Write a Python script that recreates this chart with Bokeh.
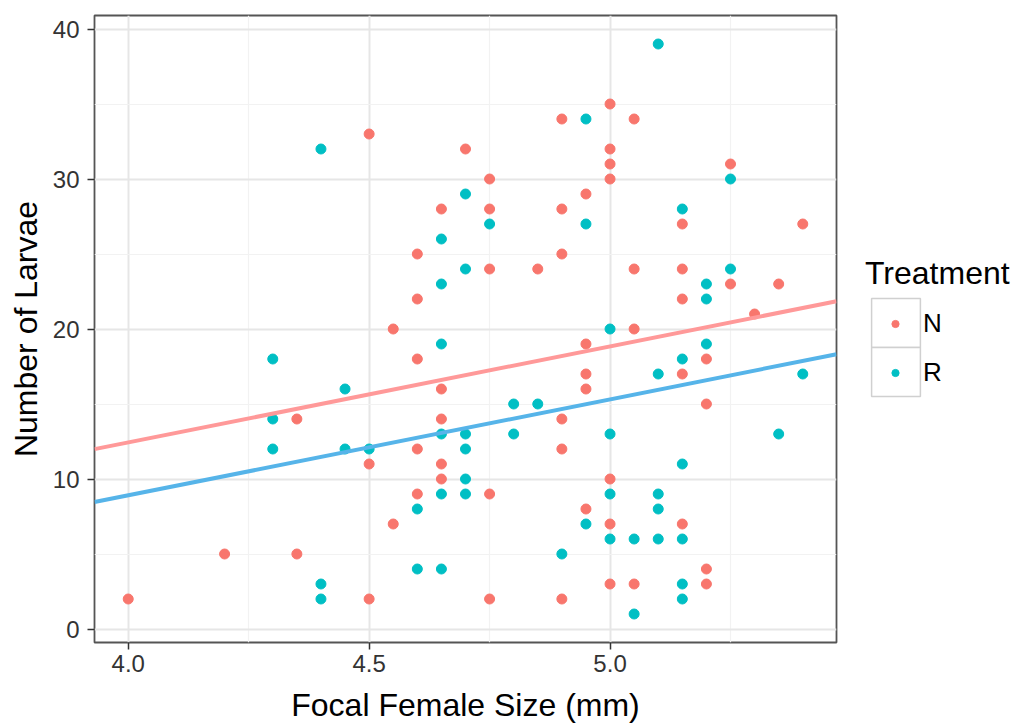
from bokeh.plotting import figure
from bokeh.layouts import row
from bokeh.models import Range1d, FixedTicker, Legend, LegendItem
from bokeh.core.properties import value
from bokeh.embed import file_html
from bokeh.resources import INLINE

# ---- data ----
size_N = [4.0, 4.2, 4.35, 4.35, 4.5, 4.5, 4.5, 4.55, 4.55,
          4.6, 4.6, 4.6, 4.6, 4.6,
          4.65, 4.65, 4.65, 4.65, 4.65,
          4.7,
          4.75, 4.75, 4.75, 4.75, 4.75,
          4.85,
          4.9, 4.9, 4.9, 4.9, 4.9, 4.9,
          4.95, 4.95, 4.95, 4.95, 4.95,
          5.0, 5.0, 5.0, 5.0, 5.0, 5.0, 5.0,
          5.05, 5.05, 5.05, 5.05,
          5.15, 5.15, 5.15, 5.15, 5.15,
          5.2, 5.2, 5.2, 5.2,
          5.25, 5.25, 5.3, 5.35, 5.4]
larvae_N = [2, 5, 14, 5, 33, 11, 2, 20, 7,
            25, 22, 18, 12, 9,
            28, 16, 14, 11, 10,
            32,
            30, 28, 24, 9, 2,
            24,
            34, 28, 25, 14, 12, 2,
            29, 19, 17, 16, 8,
            35, 32, 31, 30, 10, 7, 3,
            34, 24, 20, 3,
            27, 24, 22, 17, 7,
            18, 15, 4, 3,
            31, 23, 21, 23, 27]

size_R = [4.3, 4.3, 4.3, 4.4, 4.4, 4.4, 4.45, 4.45, 4.5, 4.6, 4.6,
          4.65, 4.65, 4.65, 4.65, 4.65, 4.65,
          4.7, 4.7, 4.7, 4.7, 4.7, 4.7,
          4.75, 4.8, 4.8, 4.85, 4.9,
          4.95, 4.95, 4.95,
          5.0, 5.0, 5.0, 5.0,
          5.05, 5.05,
          5.1, 5.1, 5.1, 5.1, 5.1,
          5.15, 5.15, 5.15, 5.15, 5.15, 5.15,
          5.2, 5.2, 5.2, 5.25, 5.25, 5.35, 5.4]
larvae_R = [18, 14, 12, 32, 3, 2, 16, 12, 12, 8, 4,
            26, 23, 19, 13, 9, 4,
            29, 24, 13, 12, 10, 9,
            27, 15, 13, 15, 5,
            34, 27, 7,
            20, 13, 9, 6,
            6, 1,
            39, 17, 9, 8, 6,
            28, 18, 11, 6, 3, 2,
            23, 22, 19, 30, 24, 13, 17]

treatments = ["N", "R"]

# fitted lines (common slope)
fit_slope = 6.4
fit_intercept_N = -13.16
fit_intercept_R = -16.69

x_ticks = [4.0, 4.5, 5.0]
x_tick_labels = ["4.0", "4.5", "5.0"]
x_minor = [4.25, 4.75, 5.25]
y_ticks = [0, 10, 20, 30, 40]
y_minor = [5, 15, 25, 35]

COL_N = "#F8766D"
COL_R = "#00BFC4"
LINE_N = "#FF9999"
LINE_R = "#56B4E9"
FONT = "Liberation Sans"

# ranges with 5% expansion like ggplot
all_x = size_N + size_R
all_y = larvae_N + larvae_R
xpad = 0.05 * (max(all_x) - min(all_x))
ypad = 0.05 * (max(all_y) - min(all_y))
x0, x1 = min(all_x) - xpad, max(all_x) + xpad
y0, y1 = min(all_y) - ypad, max(all_y) + ypad

p = figure(width=838, height=726, output_backend="svg", toolbar_location=None,
           x_range=Range1d(x0, x1), y_range=Range1d(y0, y1),
           min_border_left=94, min_border_right=2, min_border_top=15, min_border_bottom=84)
p.background_fill_color = "white"
p.border_fill_color = "white"
p.outline_line_color = "#555555"
p.outline_line_width = 1.8

p.xaxis.ticker = FixedTicker(ticks=x_ticks, minor_ticks=x_minor)
p.yaxis.ticker = FixedTicker(ticks=y_ticks, minor_ticks=y_minor)
p.xaxis.major_label_overrides = {t: l for t, l in zip(x_ticks, x_tick_labels)}

for ax in (p.xaxis, p.yaxis):
    ax.axis_line_color = None
    ax.major_tick_line_color = "#333333"
    ax.major_tick_line_width = 1.5
    ax.major_tick_in = 0
    ax.major_tick_out = 7
    ax.minor_tick_line_color = None
    ax.major_label_text_font = FONT
    ax.major_label_text_font_size = "24px"
    ax.major_label_text_color = "#333333"
    ax.axis_label_text_font = FONT
    ax.axis_label_text_font_size = "32px"
    ax.axis_label_text_font_style = "normal"
    ax.axis_label_text_color = "black"

p.xaxis.axis_label = "Focal Female Size (mm)"
p.yaxis.axis_label = "Number of Larvae"
p.xaxis.major_label_standoff = 5
p.yaxis.major_label_standoff = 8
p.xaxis.axis_label_standoff = 12
p.yaxis.axis_label_standoff = 6

for g in (p.xgrid, p.ygrid):
    g.grid_line_color = "#E6E6E6"
    g.grid_line_width = 2
    g.minor_grid_line_color = "#F2F2F2"
    g.minor_grid_line_width = 1.2

p.scatter(size_N, larvae_N, size=10, fill_color=COL_N, line_color=COL_N)
p.scatter(size_R, larvae_R, size=10, fill_color=COL_R, line_color=COL_R)

lx = [x0, x1]
p.line(lx, [fit_intercept_N + fit_slope * x for x in lx], line_color=LINE_N, line_width=4)
p.line(lx, [fit_intercept_R + fit_slope * x for x in lx], line_color=LINE_R, line_width=4)

# ---- legend panel (separate figure to the right) ----
leg = figure(width=184, height=726, output_backend="svg", toolbar_location=None,
             x_range=Range1d(0, 1), y_range=Range1d(0, 1),
             x_axis_location=None, y_axis_location=None,
             min_border_left=0, min_border_right=0, min_border_top=0, min_border_bottom=0)
leg.outline_line_color = None
leg.xgrid.visible = False
leg.ygrid.visible = False
leg.background_fill_color = "white"
leg.border_fill_color = "white"

# helper renderers for the legend keys; their single point lies outside the panel range
box_r = leg.quad(left=[-3], right=[-2], top=[-2], bottom=[-3], fill_color="white",
                 line_color="#D0D0D0", line_width=1.5)
dot_N = leg.scatter(x=[-3], y=[-3], fill_color=COL_N, line_color=COL_N)
dot_R = leg.scatter(x=[-3], y=[-3], fill_color=COL_R, line_color=COL_R)

common = dict(padding=0, margin=0, border_line_color=None, background_fill_alpha=0)
box_kw = dict(glyph_width=61, glyph_height=61, label_text_font_size="2px",
              label_standoff=0, label_width=0, label_height=0, **common)

# key box 1 with the title
legend_a1 = Legend(items=[LegendItem(label=value(" "), renderers=[box_r])],
                   location=(27, 289), title="Treatment",
                   title_text_font=FONT, title_text_font_size="32px",
                   title_text_font_style="normal", title_text_color="black",
                   title_standoff=0, **box_kw)
# key box 2
legend_a2 = Legend(items=[LegendItem(label=value(" "), renderers=[box_r])],
                   location=(27, 240), **box_kw)
# dots and labels
legend_b = Legend(items=[LegendItem(label=value(treatments[0]), renderers=[dot_N]),
                         LegendItem(label=value(treatments[1]), renderers=[dot_R])],
                  location=(48, 245), glyph_width=18, glyph_height=49, spacing=0,
                  label_standoff=19, label_height=49, label_text_font=FONT,
                  label_text_font_size="26px", label_text_color="black", **common)
leg.add_layout(legend_a1)
leg.add_layout(legend_a2)
leg.add_layout(legend_b)

page = row(p, leg, spacing=0)
open("out.html", "w").write(file_html(page, INLINE))
